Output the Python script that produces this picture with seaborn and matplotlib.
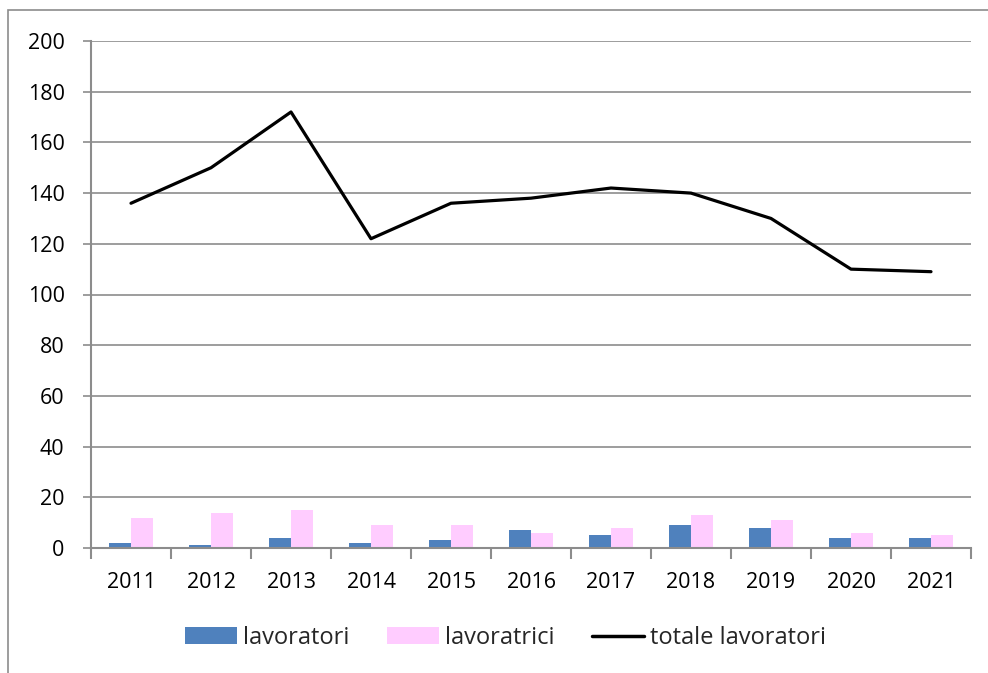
import numpy as np
import pandas as pd
import matplotlib
matplotlib.use("Agg")
import matplotlib.pyplot as plt
import seaborn as sns
from matplotlib.patches import Rectangle, Patch
from matplotlib.lines import Line2D

anni = ["2011", "2012", "2013", "2014", "2015", "2016", "2017", "2018", "2019", "2020", "2021"]
lavoratori = [2, 1, 4, 2, 3, 7, 5, 9, 8, 4, 4]
lavoratrici = [12, 14, 15, 9, 9, 6, 8, 13, 11, 6, 5]
totale = [136, 150, 172, 122, 136, 138, 142, 140, 130, 110, 109]
y_ticks = [0, 20, 40, 60, 80, 100, 120, 140, 160, 180, 200]

sns.set_theme(style="white")
plt.rcParams['font.family'] = ['Open Sans', 'DejaVu Sans']

BLUE = "#4F81BD"
PINK = "#FFCCFF"
GRAY = "#8C8C8C"
FS = 15.5

df = pd.DataFrame({
    "anno": anni * 2,
    "valore": lavoratori + lavoratrici,
    "serie": ["lavoratori"] * len(anni) + ["lavoratrici"] * len(anni),
})

fig = plt.figure(figsize=(9.88, 6.73), dpi=100)
ax = fig.add_axes([91 / 988, 1 - 548 / 673, 880 / 988, 507 / 673])

sns.barplot(data=df, x="anno", y="valore", hue="serie", order=anni,
            palette=[BLUE, PINK], width=0.55, ax=ax, legend=False,
            saturation=1, edgecolor="none", linewidth=0)
sns.lineplot(x=np.arange(len(anni)), y=totale, color="black", linewidth=2.3, ax=ax,
             legend=False)

ax.set_xlim(-0.5, len(anni) - 0.5)
ax.set_ylim(0, 200)
ax.set_yticks(y_ticks)
ax.set_xlabel("")
ax.set_ylabel("")
ax.grid(axis="y", color=GRAY, linewidth=1.2)
ax.set_axisbelow(True)
for s in ["top", "right"]:
    ax.spines[s].set_visible(False)
for s in ["left", "bottom"]:
    ax.spines[s].set_color(GRAY)
    ax.spines[s].set_linewidth(1.5)

ax.tick_params(axis="y", which="major", left=True, length=6, width=1.2, color=GRAY,
               labelsize=FS, pad=13, labelcolor="black")
ax.tick_params(axis="x", which="major", bottom=False, length=0, labelsize=FS, pad=17,
               labelcolor="black")
ax.set_xticks(np.arange(-0.5, len(anni)), minor=True)
ax.tick_params(axis="x", which="minor", bottom=True, length=8, width=1.5, color=GRAY,
               direction="out")

handles = [Patch(facecolor=BLUE, edgecolor="none", label="lavoratori"),
           Patch(facecolor=PINK, edgecolor="none", label="lavoratrici"),
           Line2D([0], [0], color="black", linewidth=2.5, label="totale lavoratori")]
fig.legend(handles=handles, loc="center", bbox_to_anchor=(0.512, 1 - 638 / 673), ncol=3,
           frameon=False, fontsize=17, handlelength=2.2, handleheight=0.7,
           handletextpad=0.25, columnspacing=1.6)

fig.patches.append(Rectangle((8 / 988, -0.05), 1.0, 1 - 10 / 673 + 0.05,
                             transform=fig.transFigure, fill=False,
                             edgecolor=GRAY, linewidth=1.2, zorder=-1))

fig.savefig("out.png", dpi=100)
